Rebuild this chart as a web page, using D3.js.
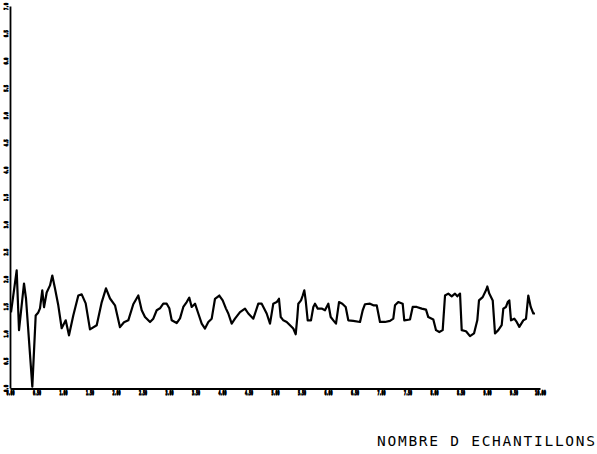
<!DOCTYPE html>
<html><head><meta charset="utf-8">
<script src="https://cdn.jsdelivr.net/npm/d3@7"></script>
<style>body{margin:0;background:#fff}svg{display:block}</style>
</head><body>
<svg id="c" width="597" height="454"></svg>
<script>
const samples = [1.9,12.6,17.0,26.4,30.2,42.1,48.5,53.4,56.6,60.9,64.2,69.2,75.5,79.8,84.9,91.1,97.5,105.1,111.3,119.4,128.9,135.3,142.8,150.9,163.6,173.0,181.1,188.7,198.1,207.5,215.1,223.2,232.6,242.1,248.5,254.7,264.2,270.4,276.8,283.0,289.2,295.7,300.6,305.1,314.5,320.8,327.0,333.4,338.3,342.8,349.1,355.3,361.7,367.9,374.2,380.6,386.8,394.9,401.3,407.5,411.9,418.3,424.5,434.0,443.4,449.6,459.1,468.5,474.9,484.3,490.6,496.8,503.2,507.5,510.8,515.7,522.1,528.3,534.5,539.1,542.1,544.0,549.1,552.3,555.3,557.9,561.7,567.9,572.3,575.5,580.6,588.1,594.3,600.6,605.1,610.0,615.1,620.8,627.0,633.4,638.3,647.7,660.4,665.5,669.8,679.2,685.5,691.9,698.1,707.5,717.0,723.2,726.4,732.6,740.9,743.9,754.7,759.8,767.4,776.8,784.9,789.2,798.7,803.8,810.0,816.4,820.8,827.0,833.4,839.6,844.0,849.1,852.3,860.4,867.9,875.5,881.7,884.9,891.9,898.1,900.6,904.3,910.8,915.1,921.3,927.7,930.8,935.8,939.1,942.1,945.3,951.5,956.0,961.0,968.5,973.6,977.9,982.5,987.4,990.6];
const values = [2.77,4.31,2.12,3.83,3.28,0.05,2.66,2.77,2.92,3.58,2.96,3.50,3.76,4.12,3.65,3.03,2.19,2.48,1.93,2.66,3.39,3.43,3.10,2.15,2.30,3.14,3.65,3.28,3.03,2.23,2.41,2.48,3.07,3.39,2.85,2.60,2.42,2.54,2.85,2.92,3.09,3.09,2.92,2.48,2.38,2.55,2.97,3.15,3.31,2.97,3.09,2.73,2.36,2.18,2.42,2.54,3.27,3.39,3.21,2.91,2.73,2.36,2.54,2.78,2.91,2.73,2.54,3.09,3.09,2.73,2.36,3.09,3.15,3.27,2.60,2.48,2.42,2.30,2.18,1.97,2.60,3.09,3.21,3.39,3.58,3.21,2.48,2.48,2.97,3.09,2.91,2.91,2.85,3.09,2.60,2.48,2.36,3.15,3.09,2.97,2.48,2.46,2.42,2.85,3.07,3.09,3.03,3.03,2.42,2.42,2.46,2.54,3.03,3.15,3.09,2.48,2.51,2.97,2.97,2.91,2.87,2.60,2.51,2.12,2.05,2.12,3.39,3.46,3.36,3.46,3.36,3.46,2.12,2.08,1.90,2.00,2.48,3.21,3.33,3.58,3.72,3.46,3.21,2.00,2.12,2.30,2.91,2.97,3.15,3.21,2.48,2.54,2.42,2.24,2.48,2.54,3.39,2.97,2.73,2.73];
const xTicks = [0,50,100,150,200,250,300,350,400,450,500,550,600,650,700,750,800,850,900,950,1000];
const yTicks = [0,1,2,3,4,5,6,7,8,9,10,11,12,13,14];
const xTitle = "NOMBRE D ECHANTILLONS";

const svg = d3.select("#c");
const x = d3.scaleLinear().domain([0,1000]).range([10,540]);
const y = d3.scaleLinear().domain([0,14]).range([388,6]);

// axes
const xAxis = d3.axisBottom(x).tickValues(xTicks).tickSize(0).tickPadding(0).tickFormat(d => d===1000 ? "10.00" : d3.format(".2f")(d/100));
const gx = svg.append("g").attr("transform","translate(0,388.5)").call(xAxis);
gx.select(".domain").attr("stroke","#000").attr("stroke-width",1.8);
gx.selectAll(".tick text").attr("font-family","DejaVu Sans Mono").attr("font-weight","bold").attr("font-size",6.5).attr("fill","#000")
  .attr("y",6).attr("dy",0).attr("stroke","#000").attr("stroke-width",1.1)
  .attr("textLength", d => d===1000 ? 11 : 8).attr("lengthAdjust","spacingAndGlyphs");

const yAxis = d3.axisLeft(y).tickValues(yTicks).tickSize(0).tickPadding(0).tickFormat(d => d3.format(".1f")(d/2));
const gy = svg.append("g").attr("transform","translate(10,0)").call(yAxis);
gy.select(".domain").attr("stroke","#000").attr("stroke-width",1.8);
gy.selectAll(".tick text").attr("font-family","DejaVu Sans Mono").attr("font-weight","bold").attr("font-size",5.5).attr("fill","#000")
  .attr("stroke","#000").attr("stroke-width",0.9)
  .attr("text-anchor","middle").attr("x",0).attr("dy",0)
  .attr("textLength",7).attr("lengthAdjust","spacingAndGlyphs")
  .attr("transform","translate(-2.5,0) rotate(-90)");

// line
const pts = samples.map((s,i) => [s, values[i]]);
svg.append("path").datum(pts)
  .attr("fill","none").attr("stroke","#000").attr("stroke-width",2.2).attr("stroke-linejoin","round")
  .attr("d", d3.line().x(d => x(d[0])).y(d => y(d[1])));

// title
svg.append("text").attr("x",377).attr("y",446)
  .attr("font-family","DejaVu Sans Mono").attr("font-size",14.5)
  .attr("textLength",218).attr("lengthAdjust","spacing")
  .attr("fill","#000").text(xTitle);
</script>
</body></html>
